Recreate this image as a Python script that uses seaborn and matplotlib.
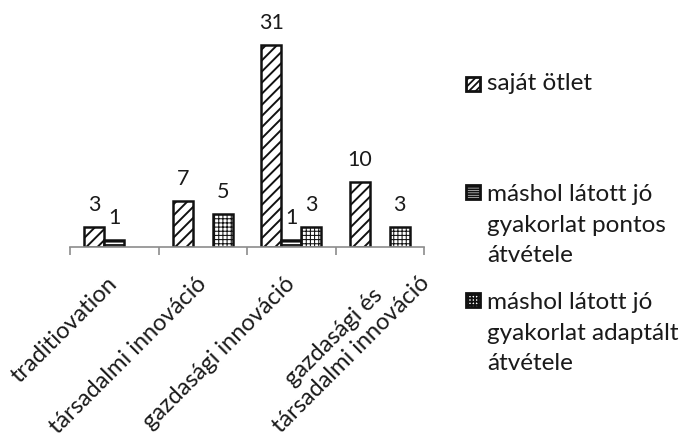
import matplotlib
matplotlib.use("Agg")
import matplotlib.pyplot as plt
import matplotlib.transforms as mtransforms
from matplotlib.patches import Rectangle
import seaborn as sns
import pandas as pd

categories = ["traditiovation", "társadalmi innováció", "gazdasági innováció",
              "gazdasági és\ntársadalmi innováció"]
series_names = ["saját ötlet",
                "máshol látott jó\ngyakorlat pontos\nátvétele",
                "máshol látott jó\ngyakorlat adaptált\nátvétele"]
sajat_otlet = [3, 7, 31, 10]
pontos_atvetel = [1, 0, 1, 0]
adaptalt_atvetel = [0, 5, 3, 3]
hatches = ["///", "-----", "++++"]
hatch_lw = [1.4, 1.3, 0.75]
icon_hatches = ["/////", "-------", "+++++"]

sns.set_theme(style="white")
plt.rcParams["font.family"] = ["Lato", "DejaVu Sans"]
plt.rcParams["hatch.linewidth"] = 1.3
TEXT = "#1a1a1a"

rows = []
for s, vals in zip(series_names, [sajat_otlet, pontos_atvetel, adaptalt_atvetel]):
    for c, v in zip(categories, vals):
        if v > 0:
            rows.append({"cat": c, "series": s, "value": v})
df = pd.DataFrame(rows)

W, H = 684, 436
fig = plt.figure(figsize=(W / 100, H / 100), dpi=100)
fx = lambda px: px / W
fy = lambda py: 1 - py / H
ax = fig.add_axes([fx(70), fy(247), fx(424) - fx(70), fy(19.5) - fy(247)])

sns.barplot(data=df, x="cat", y="value", hue="series", order=categories,
            hue_order=series_names, palette=["white"] * 3, width=0.68,
            edgecolor="#111111", linewidth=1.8, legend=False, ax=ax)

for cont, h, hl in zip(ax.containers, hatches, hatch_lw):
    for bar in cont:
        bar.set_hatch(h)
        if hasattr(bar, "set_hatch_linewidth"):
            bar.set_hatch_linewidth(hl)
    ax.bar_label(cont, padding=9, fontsize=15.5, color=TEXT)

ax.set_ylim(0, 35)
ax.set_xlim(-0.5, 3.5)
ax.set_xlabel("")
ax.set_ylabel("")
ax.set_yticks([])
for sp in ["top", "right", "left"]:
    ax.spines[sp].set_visible(False)
ax.spines["bottom"].set_color("#8c8c8c")
ax.spines["bottom"].set_linewidth(1.2)

ax.set_xticks(range(len(categories)))
ax.set_xticks([i - 0.5 for i in range(len(categories) + 1)], minor=True)
ax.tick_params(axis="x", which="major", length=0, pad=24)
ax.tick_params(axis="x", which="minor", length=6, width=1.2, color="#8c8c8c",
               direction="out", bottom=True)
ax.set_xticklabels(categories, rotation=45, ha="right", va="center",
                   rotation_mode="anchor", fontsize=17, color=TEXT,
                   multialignment="center")
labs = ax.get_xticklabels()
off = mtransforms.ScaledTranslation(38 / 100, 9 / 100, fig.dpi_scale_trans)
labs[3].set_transform(labs[3].get_transform() + off)

# legend
legend_y = [84, 192, 300]
centers = [84, 225, 333]
for h, name, yi, yc in zip(icon_hatches, series_names, legend_y, centers):
    fig.add_artist(Rectangle((fx(466), fy(yi + 7)), 14 / W, 14 / H,
                             transform=fig.transFigure, facecolor="white",
                             edgecolor="#111111", linewidth=2.0, hatch=h))
    fig.text(fx(487), fy(yc), name, ha="left", va="center", fontsize=17.5,
             color=TEXT, linespacing=1.55)

fig.savefig("out.png", dpi=100)
